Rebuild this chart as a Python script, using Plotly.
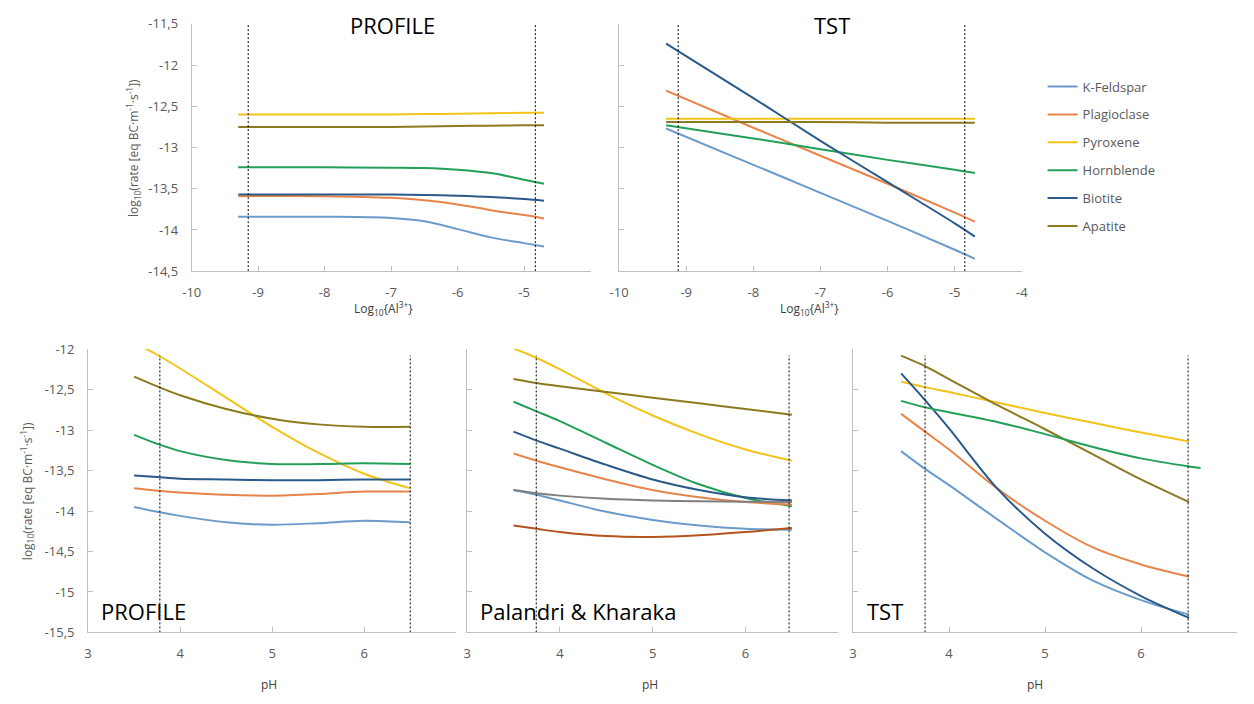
import plotly.graph_objects as go

# ---------------- DATA ----------------
MINERALS = ["K-Feldspar", "Plagioclase", "Pyroxene", "Hornblende", "Biotite", "Apatite"]

# Top-left: PROFILE vs log10{Al3+}
AL_X_PROFILE = [-9.3, -8.0, -7.0, -6.5, -6.0, -5.5, -5.0, -4.7]
AL_PROFILE = {
    "K-Feldspar":  [-13.84, -13.84, -13.855, -13.895, -13.99, -14.09, -14.16, -14.20],
    "Plagioclase": [-13.59, -13.59, -13.61, -13.64, -13.69, -13.76, -13.82, -13.86],
    "Pyroxene":    [-12.60, -12.60, -12.60, -12.595, -12.59, -12.585, -12.58, -12.58],
    "Hornblende":  [-13.24, -13.24, -13.245, -13.25, -13.27, -13.31, -13.39, -13.44],
    "Biotite":     [-13.57, -13.57, -13.57, -13.575, -13.585, -13.60, -13.625, -13.645],
    "Apatite":     [-12.75, -12.75, -12.75, -12.745, -12.74, -12.735, -12.73, -12.73],
}

# Top-right: TST vs log10{Al3+}
AL_X_TST = [-9.3, -8.0, -7.0, -6.0, -5.0, -4.7]
AL_TST = {
    "K-Feldspar":  [-12.77, -13.21, -13.55, -13.89, -14.24, -14.35],
    "Plagioclase": [-12.31, -12.76, -13.10, -13.44, -13.79, -13.90],
    "Pyroxene":    [-12.65, -12.65, -12.65, -12.65, -12.65, -12.65],
    "Hornblende":  [-12.73, -12.89, -13.02, -13.15, -13.27, -13.31],
    "Biotite":     [-11.74, -12.40, -12.92, -13.42, -13.92, -14.08],
    "Apatite":     [-12.69, -12.69, -12.69, -12.70, -12.70, -12.70],
}

PH_X = [3.5, 3.75, 4.0, 4.5, 5.0, 5.5, 6.0, 6.5]

# Bottom-left: PROFILE vs pH
PH_PROFILE = {
    "K-Feldspar":  [-13.95, -14.01, -14.06, -14.14, -14.17, -14.15, -14.12, -14.14],
    "Plagioclase": [-13.72, -13.75, -13.77, -13.80, -13.81, -13.79, -13.76, -13.76],
    "Pyroxene":    [-11.92, -12.07, -12.24, -12.60, -12.96, -13.28, -13.54, -13.72],
    "Hornblende":  [-13.06, -13.17, -13.26, -13.37, -13.42, -13.42, -13.41, -13.42],
    "Biotite":     [-13.56, -13.58, -13.60, -13.61, -13.62, -13.62, -13.61, -13.61],
    "Apatite":     [-12.34, -12.46, -12.57, -12.74, -12.86, -12.93, -12.96, -12.96],
}

# Bottom-middle: Palandri & Kharaka vs pH
PH_PALANDRI = {
    "K-Feldspar":  [-13.74, -13.80, -13.87, -14.01, -14.11, -14.18, -14.22, -14.23],
    "Plagioclase": [-13.29, -13.38, -13.46, -13.61, -13.74, -13.83, -13.89, -13.92],
    "Pyroxene":    [-11.99, -12.11, -12.25, -12.55, -12.82, -13.05, -13.24, -13.38],
    "Hornblende":  [-12.65, -12.77, -12.89, -13.16, -13.43, -13.67, -13.84, -13.94],
    "Biotite":     [-13.02, -13.13, -13.23, -13.43, -13.61, -13.74, -13.83, -13.87],
    "Apatite":     [-12.37, -12.42, -12.46, -12.53, -12.60, -12.67, -12.74, -12.81],
}
PH_PALANDRI_EXTRA_GREY = [-13.74, -13.78, -13.81, -13.85, -13.87, -13.88, -13.885, -13.89]
PH_PALANDRI_EXTRA_BROWN = [-14.18, -14.22, -14.26, -14.31, -14.32, -14.30, -14.26, -14.21]

# Bottom-right: TST vs pH
PH_TST = {
    "K-Feldspar":  [-13.26, -13.48, -13.68, -14.10, -14.51, -14.86, -15.10, -15.28],
    "Plagioclase": [-12.80, -13.02, -13.24, -13.72, -14.12, -14.45, -14.66, -14.81],
    "Pyroxene":    [-12.40, -12.47, -12.53, -12.66, -12.79, -12.91, -13.03, -13.14],
    "Biotite":     [-12.30, -12.63, -12.98, -13.72, -14.28, -14.71, -15.05, -15.32],
    "Apatite":     [-12.08, -12.21, -12.37, -12.69, -12.99, -13.30, -13.61, -13.89],
}
PH_X_TST_HORNBLENDE = [3.5, 3.75, 4.0, 4.5, 5.0, 5.5, 6.0, 6.5, 6.62]
PH_TST_HORNBLENDE = [-12.64, -12.72, -12.78, -12.90, -13.05, -13.21, -13.35, -13.45, -13.47]

# dashed reference lines (x positions)
AL_DASH_PROFILE = [-9.15, -4.83]
AL_DASH_TST = [-9.12, -4.85]
PH_DASH_PROFILE = [3.78, 6.50]
PH_DASH_PALANDRI = [3.745, 6.47]
PH_DASH_TST = [3.75, 6.49]
AL_DASH_Y = [-14.5, -11.48]
PH_DASH_Y = [-15.5, -12.08]

# ticks
AL_TICKS = [-10, -9, -8, -7, -6, -5, -4]
AL_TICKTEXT_LEFT = ["-10", "-9", "-8", "-7", "-6", "-5", ""]
AL_TICKTEXT_RIGHT = ["-10", "-9", "-8", "-7", "-6", "-5", "-4"]
AL_YTICKS = [-14.5, -14.0, -13.5, -13.0, -12.5, -12.0, -11.5]
AL_YTICKTEXT = ["-14,5", "-14", "-13,5", "-13", "-12,5", "-12", "-11,5"]
PH_TICKS = [3, 4, 5, 6, 7]
PH_TICKTEXT = ["3", "4", "5", "6", ""]
PH_YTICKS = [-15.5, -15.0, -14.5, -14.0, -13.5, -13.0, -12.5, -12.0]
PH_YTICKTEXT = ["-15,5", "-15", "-14,5", "-14", "-13,5", "-13", "-12,5", "-12"]

# ---------------- STYLE ----------------
COLORS = {
    "K-Feldspar": "#6B9BCB",
    "Plagioclase": "#E8844A",
    "Pyroxene": "#F2C419",
    "Hornblende": "#22A05A",
    "Biotite": "#2A5A8A",
    "Apatite": "#8C7A1F",
}
GREY = "#7F7F7F"
BROWN = "#B5541C"
FONT = "Open Sans"
TICKC = "#595959"
AXC = "#BFBFBF"
OFF = 8            # default page body margin
W, H = 1254 - 2 * OFF, 704 - 2 * OFF

fig = go.Figure()


def add_line(x, y, color, ax, name, legend=False):
    fig.add_trace(go.Scatter(
        x=x, y=y, mode="lines", name=name, legendgroup=name, showlegend=legend,
        line=dict(color=color, width=2, shape="spline", smoothing=0.9),
        xaxis="x" + ax, yaxis="y" + ax, hoverinfo="skip"))


def add_dash(xs, ys, ax):
    for xv in xs:
        fig.add_trace(go.Scatter(
            x=[xv, xv], y=ys, mode="lines", showlegend=False,
            line=dict(color="black", width=1, dash="2px,2px"),
            xaxis="x" + ax, yaxis="y" + ax, hoverinfo="skip"))


# panel 1 (top-left)
for m in MINERALS:
    add_line(AL_X_PROFILE, AL_PROFILE[m], COLORS[m], "", m, legend=True)
add_dash(AL_DASH_PROFILE, AL_DASH_Y, "")
# panel 2 (top-right)
for m in MINERALS:
    add_line(AL_X_TST, AL_TST[m], COLORS[m], "2", m)
add_dash(AL_DASH_TST, AL_DASH_Y, "2")
# panel 3 (bottom-left)
for m in MINERALS:
    add_line(PH_X, PH_PROFILE[m], COLORS[m], "3", m)
add_dash(PH_DASH_PROFILE, PH_DASH_Y, "3")
# panel 4 (bottom-middle)
for m in ["Pyroxene", "Apatite", "Hornblende", "Biotite", "Plagioclase", "K-Feldspar"]:
    add_line(PH_X, PH_PALANDRI[m], COLORS[m], "4", m)
add_line(PH_X, PH_PALANDRI_EXTRA_GREY, GREY, "4", "extra1")
add_line(PH_X, PH_PALANDRI_EXTRA_BROWN, BROWN, "4", "extra2")
add_dash(PH_DASH_PALANDRI, PH_DASH_Y, "4")
# panel 5 (bottom-right)
for m in ["K-Feldspar", "Plagioclase", "Pyroxene", "Biotite", "Apatite"]:
    add_line(PH_X, PH_TST[m], COLORS[m], "5", m)
add_line(PH_X_TST_HORNBLENDE, PH_TST_HORNBLENDE, COLORS["Hornblende"], "5", "Hornblende")
add_dash(PH_DASH_TST, PH_DASH_Y, "5")


def px(p):
    return (p - OFF) / W


def py(p):
    return 1 - (p - OFF) / H


def xdom(a, b):
    return [px(a), px(b)]


def ydom(top, bottom):
    return [py(bottom), py(top)]


def xax(dom, rng, tv, tt, anchor):
    return dict(domain=dom, range=rng, tickvals=tv, ticktext=tt, anchor=anchor,
                showgrid=False, zeroline=False, showline=True, linecolor=AXC, linewidth=1,
                ticks="inside", ticklen=5, tickcolor=AXC,
                tickfont=dict(family=FONT, size=13, color=TICKC), ticklabelstandoff=9,
                fixedrange=True)


def yax(dom, rng, tv, tt, anchor, labels=True):
    return dict(domain=dom, range=rng, tickvals=tv, ticktext=tt, anchor=anchor,
                showgrid=False, zeroline=False, showline=True, linecolor=AXC, linewidth=1,
                ticks="inside", ticklen=5, tickcolor=AXC, showticklabels=labels,
                tickfont=dict(family=FONT, size=13, color=TICKC), ticklabelstandoff=10,
                fixedrange=True)


TOP = ydom(15, 269)
BOT = ydom(349, 640)

layout = dict(
    width=W, height=H, autosize=False,
    margin=dict(l=0, r=0, t=0, b=0, pad=0),
    paper_bgcolor="white", plot_bgcolor="white",
    font=dict(family=FONT, color=TICKC),
    xaxis=xax(xdom(184, 588), [-10, -4], AL_TICKS, AL_TICKTEXT_LEFT, "y"),
    yaxis=yax(TOP, [-14.5, -11.5], AL_YTICKS, AL_YTICKTEXT, "x"),
    xaxis2=xax(xdom(617, 1025), [-10, -4], AL_TICKS, AL_TICKTEXT_RIGHT, "y2"),
    yaxis2=yax(TOP, [-14.5, -11.5], AL_YTICKS, AL_YTICKTEXT, "x2", labels=False),
    xaxis3=xax(xdom(79, 452), [3, 7], PH_TICKS, PH_TICKTEXT, "y3"),
    yaxis3=yax(BOT, [-15.5, -12], PH_YTICKS, PH_YTICKTEXT, "x3"),
    xaxis4=xax(xdom(463, 839), [3, 7], PH_TICKS, PH_TICKTEXT, "y4"),
    yaxis4=yax(BOT, [-15.5, -12], PH_YTICKS, PH_YTICKTEXT, "x4", labels=False),
    xaxis5=xax(xdom(854, 1243), [3, 7], PH_TICKS, PH_TICKTEXT, "y5"),
    yaxis5=yax(BOT, [-15.5, -12], PH_YTICKS, PH_YTICKTEXT, "x5", labels=False),
    showlegend=True,
    legend=dict(x=px(1046), y=py(64), xanchor="left", yanchor="top",
                font=dict(family=FONT, size=13, color=TICKC),
                bgcolor="rgba(0,0,0,0)", tracegroupgap=8, itemwidth=30,
                traceorder="grouped"),
)
fig.update_layout(**layout)

YTITLE = "log<sub>10</sub>(rate [eq BC·m<sup>-1</sup>·s<sup>-1</sup>])"
ALTITLE = "Log<sub>10</sub>{Al<sup>3+</sup>}"


def ann(text, x, y, size, color, angle=0, xanchor="center"):
    fig.add_annotation(text=text, x=px(x), y=py(y), xref="paper", yref="paper",
                       showarrow=False, textangle=angle, xanchor=xanchor, yanchor="middle",
                       font=dict(family=FONT, size=size, color=color))


ann(YTITLE, 125, 142, 12, TICKC, angle=-90)
ann(YTITLE, 17, 495, 12, TICKC, angle=-90)
ann(ALTITLE, 378, 307, 12, "#404040")
ann(ALTITLE, 810, 307, 12, "#404040")
ann("pH", 262, 693, 12, "#404040")
ann("pH", 648, 693, 12, "#404040")
ann("pH", 1038, 693, 12, "#404040")
ann("PROFILE", 342, 16, 22, "black", xanchor="left")
ann("TST", 812, 16, 22, "black", xanchor="left")
ann("PROFILE", 90, 618, 22, "black", xanchor="left")
ann("Palandri &amp; Kharaka", 474, 618, 22, "black", xanchor="left")
ann("TST", 866, 618, 22, "black", xanchor="left")

fig.write_html("out.html", config={"displayModeBar": False})
